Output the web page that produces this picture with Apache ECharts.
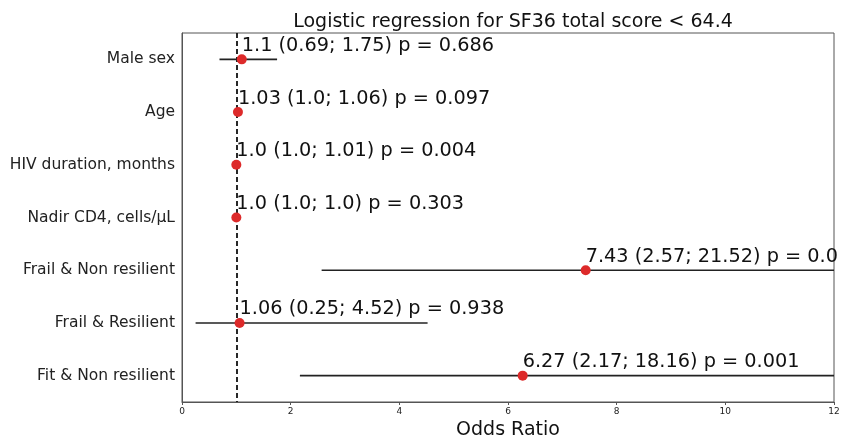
<!DOCTYPE html>
<html>
<head>
<meta charset="utf-8">
<script src="https://cdn.jsdelivr.net/npm/echarts@6/dist/echarts.min.js"></script>
<style>html,body{margin:0;padding:0;background:#fff;}#c{width:854px;height:438px;}</style>
</head>
<body>
<div id="c"></div>
<script>
var categories = ["Male sex", "Age", "HIV duration, months", "Nadir CD4, cells/\u00b5L", "Frail & Non resilient", "Frail & Resilient", "Fit & Non resilient"];
var oddsRatio = [1.1, 1.03, 1.0, 1.0, 7.43, 1.06, 6.27];
var ciLow = [0.69, 1.0, 1.0, 1.0, 2.57, 0.25, 2.17];
var ciHigh = [1.75, 1.06, 1.01, 1.0, 21.52, 4.52, 18.16];
var pValues = ["0.686", "0.097", "0.004", "0.303", "0.0", "0.938", "0.001"];
var xTicks = [0, 2, 4, 6, 8, 10, 12];
var refLine = 1;

var FONT = "DejaVu Sans";
function fmt(v) { return v % 1 === 0 ? v.toFixed(1) : String(v); }

var chart = echarts.init(document.getElementById('c'), null, {renderer: 'canvas'});

var ciData = categories.map(function (c, i) { return [ciLow[i], ciHigh[i], i]; });
var ptData = categories.map(function (c, i) { return [oddsRatio[i], i]; });

chart.setOption({
  animation: false,
  backgroundColor: '#ffffff',
  title: {
    text: 'Logistic regression for SF36 total score < 64.4',
    left: 508, top: 8, textAlign: 'center',
    textStyle: {fontFamily: FONT, fontSize: 19, fontWeight: 'normal', color: '#111'}
  },
  grid: {left: 182, right: 20, top: 33, bottom: 36, show: true, borderColor: '#555', borderWidth: 1,
    backgroundColor: 'transparent', containLabel: false, outerBoundsMode: 'none'},
  xAxis: {
    type: 'value', min: 0, max: 12, interval: 2,
    name: 'Odds Ratio', nameLocation: 'middle', nameGap: 17,
    nameTextStyle: {fontFamily: FONT, fontSize: 19, color: '#111'},
    axisLine: {show: true, lineStyle: {color: '#555', width: 1}},
    axisTick: {show: true, length: 3, lineStyle: {color: '#555'}},
    axisLabel: {fontFamily: FONT, fontSize: 9, color: '#222', margin: 5,
      formatter: function (v) { return xTicks.indexOf(v) >= 0 ? String(v) : ''; }},
    splitLine: {show: false}
  },
  yAxis: {
    type: 'category', data: categories, inverse: true,
    axisLine: {show: true, lineStyle: {color: '#555', width: 1}},
    axisTick: {show: false},
    axisLabel: {fontFamily: FONT, fontSize: 15.5, color: '#222', margin: 7},
    splitLine: {show: false}
  },
  series: [
    {
      type: 'custom', clip: true, z: 2,
      data: ciData,
      renderItem: function (params, api) {
        var a = api.coord([api.value(0), api.value(2)]);
        var b = api.coord([api.value(1), api.value(2)]);
        return {type: 'line', shape: {x1: a[0], y1: a[1], x2: b[0], y2: b[1]},
          style: {stroke: '#222', lineWidth: 1.6}};
      }
    },
    {
      type: 'line', z: 3, silent: true, symbol: 'none', data: [],
      markLine: {
        silent: true, symbol: 'none', label: {show: false},
        lineStyle: {color: '#111', type: [5, 3], width: 1.8},
        data: [{xAxis: refLine}]
      }
    },
    {
      type: 'scatter', z: 5, symbolSize: 10,
      itemStyle: {color: '#dd2a2a', opacity: 1},
      data: ptData,
      label: {
        show: true, position: [5, 1], align: 'left', verticalAlign: 'bottom',
        fontFamily: FONT, fontSize: 19.3, color: '#111',
        formatter: function (p) {
          var i = p.dataIndex;
          return fmt(oddsRatio[i]) + ' (' + fmt(ciLow[i]) + '; ' + fmt(ciHigh[i]) + ') p = ' + pValues[i];
        }
      },
      labelLayout: {hideOverlap: false}
    }
  ]
});
</script>
</body>
</html>
